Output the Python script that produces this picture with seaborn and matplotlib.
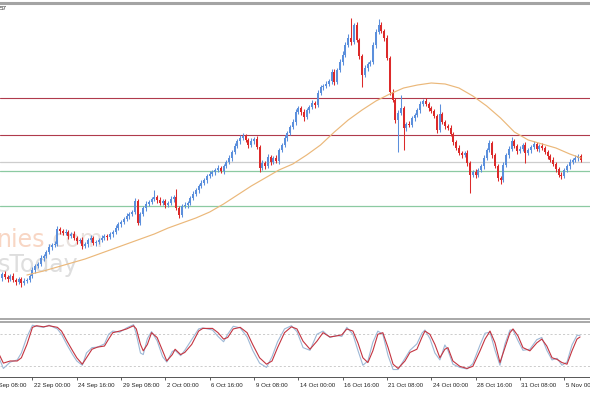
import numpy as np
import pandas as pd
import matplotlib
matplotlib.use("Agg")
import matplotlib.pyplot as plt
import seaborn as sns
from matplotlib.transforms import ScaledTranslation

# ---------------- data (price in index points) ----------------
first_open = 52
closes = [
    56, 53, 51, 54, 50, 48, 51, 47, 49, 50,
    54, 60, 64, 66, 72, 74, 78, 83, 85, 86,
    101, 99, 97, 98, 94, 96, 92, 89, 90, 84,
    86, 90, 92, 87, 88, 90, 92, 94, 93, 96,
    98, 102, 106, 108, 111, 114, 116, 118, 129, 107,
    116, 122, 126, 128, 131, 133, 130, 127, 129, 125,
    127, 131, 133, 122, 115, 124, 125, 127, 132, 136,
    140, 144, 147, 150, 154, 156, 158, 160, 162, 159,
    164, 168, 172, 178, 184, 189, 192, 194, 190, 185,
    189, 191, 183, 162, 167, 164, 173, 168, 172, 169,
    180, 185, 192, 197, 203, 208, 218, 222, 218, 213,
    220, 223, 227, 225, 237, 243, 244, 246, 249, 258,
    248, 260, 268, 275, 285, 292, 288, 305, 290, 274,
    255, 262, 266, 268, 285, 298, 305, 299, 292, 272,
    238, 230, 210, 217, 222, 202, 206, 205, 212, 215,
    220, 226, 229, 226, 222, 219, 214, 200, 216, 208,
    204, 202, 196, 188, 182, 177, 175, 177, 167, 155,
    158, 155, 160, 164, 172, 180, 187, 175, 164, 152,
    150, 165, 175, 181, 189, 184, 179, 181, 185, 177,
    180, 183, 186, 181, 184, 182, 178, 174, 170, 166,
    161, 155, 154, 160, 164, 168, 170, 172, 174, 170,
]
upper_wick = [
    2, 3, 2, 2, 3, 2, 2, 2, 3, 2,
    2, 3, 2, 2, 3, 2, 2, 3, 2, 3,
    3, 2, 2, 3, 2, 2, 3, 2, 2, 3,
    2, 2, 3, 2, 2, 2, 3, 2, 2, 2,
    2, 3, 2, 2, 2, 3, 2, 2, 3, 2,
    2, 2, 3, 2, 2, 7, 2, 3, 2, 2,
    2, 3, 2, 8, 2, 2, 3, 2, 2, 3,
    2, 2, 3, 2, 2, 3, 2, 2, 3, 2,
    2, 2, 3, 2, 3, 2, 3, 3, 2, 2,
    3, 2, 3, 2, 3, 2, 3, 2, 2, 3,
    2, 2, 3, 2, 2, 3, 3, 2, 2, 3,
    2, 2, 3, 2, 3, 2, 2, 3, 2, 3,
    3, 2, 3, 4, 3, 4, 20, 2, 3, 2,
    2, 3, 2, 2, 3, 3, 6, 3, 2, 3,
    2, 3, 2, 3, 13, 2, 2, 3, 2, 2,
    2, 3, 2, 3, 2, 2, 2, 2, 10, 2,
    2, 2, 3, 2, 2, 3, 2, 2, 3, 2,
    2, 3, 2, 2, 3, 2, 3, 2, 2, 2,
    2, 3, 2, 3, 4, 2, 2, 3, 2, 3,
    2, 2, 3, 2, 2, 3, 2, 2, 2, 3,
    2, 2, 3, 2, 2, 3, 2, 3, 2, 2,
]
lower_wick = [
    3, 2, 3, 2, 2, 3, 2, 4, 2, 2,
    2, 2, 3, 2, 2, 3, 2, 2, 3, 2,
    2, 3, 2, 2, 3, 2, 2, 3, 2, 3,
    2, 3, 2, 2, 3, 2, 2, 2, 3, 2,
    3, 2, 2, 3, 2, 2, 3, 2, 2, 2,
    2, 2, 3, 2, 2, 2, 3, 2, 2, 3,
    2, 2, 3, 2, 3, 2, 2, 3, 2, 2,
    2, 3, 2, 2, 3, 2, 2, 3, 2, 2,
    3, 2, 2, 3, 2, 2, 3, 2, 2, 3,
    2, 3, 2, 4, 2, 3, 2, 3, 2, 2,
    3, 2, 2, 3, 2, 2, 3, 2, 3, 4,
    2, 3, 2, 3, 2, 2, 3, 2, 2, 3,
    3, 2, 2, 3, 2, 2, 3, 2, 2, 3,
    12, 2, 3, 2, 2, 3, 2, 2, 3, 2,
    3, 2, 3, 32, 2, 22, 3, 2, 2, 3,
    2, 3, 2, 2, 3, 2, 2, 3, 2, 2,
    3, 2, 2, 3, 2, 2, 3, 2, 3, 18,
    2, 3, 2, 2, 3, 2, 2, 3, 2, 3,
    4, 2, 2, 3, 2, 2, 3, 2, 2, 10,
    2, 3, 2, 2, 3, 2, 2, 3, 2, 2,
    3, 2, 3, 2, 2, 3, 2, 2, 3, 2,
]

# moving average (read every 5 bars)
ma_bars = [9, 15, 20, 25, 30, 35, 40, 45, 50, 55, 60, 65, 70, 75, 80, 85, 90,
           95, 100, 105, 110, 115, 120, 125, 130, 135, 140, 145, 150, 155,
           160, 165, 170, 175, 180, 185, 190, 195, 200, 205, 209]
ma_values = [55, 59, 63, 67, 71, 76, 81, 86, 91, 96, 102, 107, 112, 118, 126,
             135, 144, 152, 160, 166, 175, 185, 198, 210, 220, 229, 236, 242,
             245, 247, 246, 242, 234, 224, 212, 198, 190, 186, 182, 176, 172]

# horizontal levels
maroon_levels = [232, 195]
gray_level = 168
green_levels = [159.5, 124]

# stochastic oscillator
stoch_bars = [-1, 0.5, 3, 5.5, 7, 9, 11, 12.5, 15, 17,
              20, 21.5, 23.5, 25.5, 27, 29, 30.5, 32.5, 34.5, 37,
              38.5, 40, 42.5, 45, 47.5, 48.5, 50, 51, 52.5, 54,
              56, 58, 59.5, 61.5, 62.5, 64.5, 66, 68.5, 71, 72.5,
              76, 78, 80, 81.5, 83.5, 86, 88.5, 90.5, 93, 95.5,
              97.5, 99.5, 102, 104.5, 106.5, 108.7, 111.2, 113.7, 115.9, 118.4,
              120.9, 122.7, 124.5, 126.7, 128.5, 130.3, 132.1, 133.9, 135.7, 137.5,
              139.4, 141.2, 143, 145.5, 147.3, 149.8, 151.6, 152.7, 154.5, 156.3,
              158.1, 159.9, 161, 162.8, 165.3, 167.9, 170, 172.6, 174.4, 176.2,
              178, 179.8, 181.6, 183.4, 184.5, 186.3, 188.1, 190.6, 193.1, 194.9,
              196.7, 198.6, 200.4, 202.2, 204, 205.8, 207.6, 208.7]
stoch_d = [42, 26, 30, 30, 36, 61, 93, 96, 94, 96,
           93, 86, 67, 49, 36, 24, 36, 52, 56, 58,
           71, 83, 86, 90, 96, 90, 61, 49, 61, 83,
           74, 49, 30, 42, 52, 42, 46, 61, 86, 91,
           91, 83, 71, 74, 90, 93, 83, 61, 36, 24,
           30, 55, 83, 94, 90, 67, 52, 67, 83, 75,
           77, 79, 90, 86, 64, 36, 27, 49, 80, 83,
           55, 24, 16, 30, 46, 52, 74, 86, 80, 61,
           36, 52, 55, 30, 20, 16, 20, 49, 71, 86,
           64, 27, 55, 83, 90, 77, 55, 49, 64, 71,
           58, 36, 33, 27, 24, 49, 71, 75]
stoch_k = [35, 16, 28, 32, 45, 75, 97, 95, 93, 97,
           90, 80, 60, 42, 30, 22, 45, 55, 56, 62,
           80, 86, 84, 92, 98, 80, 45, 42, 72, 85,
           68, 38, 28, 48, 50, 40, 50, 70, 90, 92,
           88, 76, 66, 80, 95, 92, 75, 50, 26, 18,
           38, 66, 90, 96, 85, 55, 50, 80, 86, 74,
           78, 76, 93, 80, 50, 22, 30, 65, 86, 80,
           40, 14, 14, 35, 50, 62, 82, 88, 72, 45,
           32, 60, 50, 24, 18, 15, 25, 60, 82, 84,
           50, 22, 62, 88, 88, 68, 50, 52, 70, 74,
           50, 32, 35, 22, 28, 60, 78, 78]

first_tick_bar = -5
first_tick_label = "19 Sep 08:00"
tick_bars = [11, 27, 43, 59, 75, 91, 107, 123, 139, 155, 171, 187, 203]
tick_labels = ["22 Sep 00:00", "24 Sep 16:00", "29 Sep 08:00",
               "2 Oct 00:00", "6 Oct 16:00", "9 Oct 08:00", "14 Oct 00:00",
               "16 Oct 16:00", "21 Oct 08:00", "24 Oct 00:00", "28 Oct 16:00",
               "31 Oct 08:00", "5 Nov 00:00"]

# ---------------- styling ----------------
sns.set_theme(style="white")
plt.rcParams['font.family'] = ['Liberation Sans', 'DejaVu Sans']

bull_color = "#5b8fdc"
bear_color = "#dc2a2a"
XLIM = (-0.72, 212.3)

fig = plt.figure(figsize=(5.9, 3.93), dpi=100)
fig.patch.set_facecolor("white")
H = 393.0
ax = fig.add_axes([0, (H - 319) / H, 1, 316 / H])
ax2 = fig.add_axes([0, (H - 377) / H, 1, 55 / H], sharex=ax)

# candles
n = len(closes)
x = np.arange(n)
c = np.array(closes, dtype=float)
o = np.concatenate([[first_open], c[:-1]])
hi = np.maximum(o, c) + np.array(upper_wick)
lo = np.minimum(o, c) - np.array(lower_wick)
cols = np.where(c >= o, bull_color, bear_color)
ax.vlines(x, lo, hi, colors=cols, lw=0.75, zorder=3)
ax.bar(x, np.maximum(np.abs(c - o), 0.9), bottom=np.minimum(o, c), width=0.72,
       color=cols, linewidth=0, zorder=4)

# horizontal levels
for lv in maroon_levels:
    ax.axhline(lv, color="#b03a4c", lw=0.8, zorder=2)
ax.axhline(gray_level, color="#cdcdcd", lw=0.9, zorder=2)
for lv in green_levels:
    ax.axhline(lv, color="#8ccaa2", lw=0.9, zorder=2)

# moving average
ma_df = pd.DataFrame({"bar": ma_bars, "ma": ma_values})
sns.lineplot(data=ma_df, x="bar", y="ma", ax=ax, color="#ebb87a", lw=0.85,
             zorder=5, legend=False)

# watermark
ax.text(-3 / 590, (H - 247) / H, "nies", transform=fig.transFigure, fontsize=17,
        color="#f8d6c4", family="DejaVu Sans", zorder=1, clip_on=False)
ax.text(46 / 590, (H - 247) / H, ".com", transform=fig.transFigure, fontsize=17,
        color="#e8e1dd", family="DejaVu Sans", zorder=1, clip_on=False)
ax.text(-2 / 590, (H - 272) / H, "sToday", transform=fig.transFigure, fontsize=17,
        color="#dedede", family="DejaVu Sans", zorder=1, clip_on=False)

fig.text(0.0, (H - 8) / H, "57", fontsize=4.5, color="#222222", va="center")

ax.set_ylim(11, 327)
ax.set_xlabel("")
ax.set_ylabel("")
ax.set_yticks([])
ax.tick_params(bottom=False, labelbottom=False, left=False, labelleft=False)
for s in ["left", "right"]:
    ax.spines[s].set_visible(False)
ax.spines["top"].set_color("#a4a4a4")
ax.spines["top"].set_linewidth(2.2)
ax.spines["bottom"].set_color("#a8a8a8")
ax.spines["bottom"].set_linewidth(1.4)

# stochastic panel
st_df = pd.DataFrame({"bar": stoch_bars, "k": stoch_k, "d": stoch_d})
sns.lineplot(data=st_df, x="bar", y="k", ax=ax2, color="#9db8d6", lw=0.8, legend=False)
sns.lineplot(data=st_df, x="bar", y="d", ax=ax2, color="#c43440", lw=0.8, legend=False)
for lv in [80, 20]:
    ax2.axhline(lv, color="#c4c4c4", lw=0.6, ls=(0, (2.5, 2.5)), zorder=0)
ax2.set_ylim(0, 103)
ax2.set_xlabel("")
ax2.set_ylabel("")
ax2.set_yticks([])
for s in ["left", "right"]:
    ax2.spines[s].set_visible(False)
ax2.spines["top"].set_color("#a8a8a8")
ax2.spines["top"].set_linewidth(1.4)
ax2.spines["bottom"].set_color("#555555")
ax2.spines["bottom"].set_linewidth(0.7)

ax2.set_xticks(tick_bars)
ax2.set_xticklabels(tick_labels, ha="left", fontsize=4.4, color="#222222")
ax2.tick_params(axis="x", bottom=True, length=2.5, width=0.6, color="#444444",
                pad=1.5, direction="out")
off = ScaledTranslation(1.5 / 100, 0, fig.dpi_scale_trans)
for lab in ax2.get_xticklabels():
    lab.set_transform(lab.get_transform() + off)

# partially visible first date label (its tick lies left of the view)
ax2.annotate(first_tick_label, xy=(first_tick_bar, 0),
             xycoords=("data", "axes fraction"), xytext=(1.08, -4),
             textcoords="offset points", ha="left", va="top", fontsize=4.4,
             color="#222222", annotation_clip=False)

# limits set last (set_xticks would otherwise widen the view)
ax.set_xlim(*XLIM)
ax2.set_xlim(*XLIM)

fig.savefig("out.png", dpi=100, facecolor="white")
